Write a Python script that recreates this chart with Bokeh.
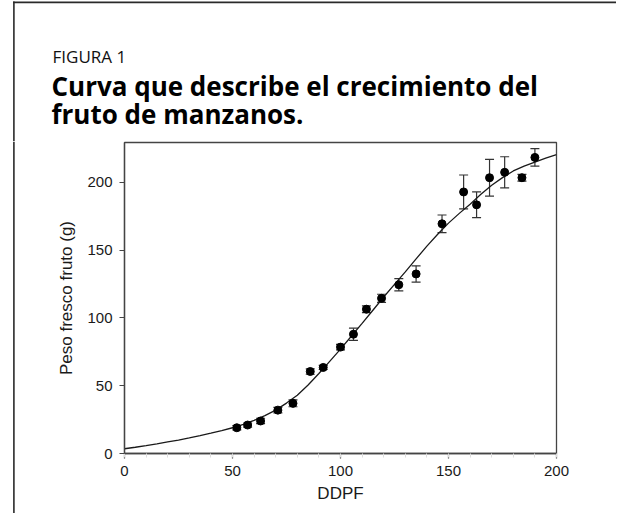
from bokeh.plotting import figure
from bokeh.layouts import column, row
from bokeh.models import (ColumnDataSource, Whisker, TeeHead, Range1d, FixedTicker)
from bokeh.core.properties import value
from bokeh.embed import file_html
from bokeh.resources import INLINE

# ---- data ----
ddpf = [52, 57, 63, 71, 78, 86, 92, 100, 106, 112, 119, 127, 135, 147, 157, 163, 169, 176, 184, 190]
peso = [19, 21, 24, 32, 37, 60.5, 63.5, 78.5, 88, 106.5, 114.5, 124.5, 132.5, 169.5,
        193, 183.5, 203.5, 207.5, 203.5, 218.5]
error = [1.5, 1.5, 2, 2, 2.5, 2, 1.5, 2, 4.5, 2.5, 3, 4.5, 6, 6.5, 12.5, 9.5, 13.5, 11.5, 2.5, 6.5]

# fitted growth curve, read every 5 DDPF
curve_x = [0, 5, 10, 15, 20, 25, 30, 35, 40, 45, 50, 55, 60, 65, 70, 75, 80, 85, 90, 95,
           100, 105, 110, 115, 120, 125, 130, 135, 140, 145, 150, 155, 160, 165, 170,
           175, 180, 185, 190, 195, 200]
curve_y = [3.5, 4.6, 5.8, 7.1, 8.5, 9.9, 11.5, 13.2, 15, 16.9, 19, 21.5, 24.5, 28, 32,
           37.2, 43, 50.5, 59, 68, 77, 86.5, 96, 105.7, 115.5, 124.8, 134, 143.6, 153,
           161.8, 170, 177.2, 184, 191.3, 198, 203.6, 208.5, 212, 215, 217.9, 220.5]

x_ticks = [0, 50, 100, 150, 200]
y_ticks = [0, 50, 100, 150, 200]

fig_label = "FIGURA 1"
title_lines = ["Curva que describe el crecimiento del", "fruto de manzanos."]
x_label = "DDPF"
y_label = "Peso fresco fruto (g)"

W = 616
HEAD_H = 141
MAIN_H = 372
STRIP_W = 15
FL, FR = 124, 556
BORDER = "#2a2a2a"


def blank_fig(width, height, xr, yr):
    f = figure(width=width, height=height, output_backend="svg", toolbar_location=None,
               x_range=Range1d(*xr), y_range=Range1d(*yr),
               x_axis_type=None, y_axis_type=None, title=None,
               min_border=0, min_border_left=0, min_border_right=0,
               min_border_top=0, min_border_bottom=0)
    f.frame_align = False
    f.grid.visible = False
    f.outline_line_color = None
    f.background_fill_color = "white"
    f.border_fill_color = "white"
    return f


# ---------------- header (pixel coordinates, y downwards) ----------------
head = blank_fig(W, HEAD_H, (0, W), (HEAD_H, 0))
head.quad(left=[12.6], right=[W], top=[1], bottom=[2.8], fill_color=BORDER, line_color=None)
head.quad(left=[12.6], right=[14.2], top=[1], bottom=[HEAD_H], fill_color=BORDER, line_color=None)
head.text(x=[52], y=[56], text=[fig_label], text_baseline="alphabetic",
          text_font=value("Open Sans"), text_font_size="17px", text_color="#111111")
head.text(x=[51, 51], y=[85, 113.5], text=title_lines, text_baseline="alphabetic",
          text_font=value("Open Sans"), text_font_style="bold", text_font_size="26px",
          text_color="#000000")

# ---------------- left strip carrying the outer box line ----------------
strip = blank_fig(STRIP_W, MAIN_H, (0, STRIP_W), (MAIN_H, 0))
strip.quad(left=[12.6], right=[14.2], top=[0], bottom=[MAIN_H], fill_color=BORDER, line_color=None)

# ---------------- main chart ----------------
p = figure(width=W - STRIP_W, height=MAIN_H, output_backend="svg", toolbar_location=None,
           x_range=Range1d(0, 200), y_range=Range1d(0, 229.5),
           min_border_left=FL - STRIP_W, min_border_right=W - FR, min_border_top=1,
           min_border_bottom=MAIN_H - 1 - 311, title=None)
p.frame_align = False
p.background_fill_color = "white"
p.border_fill_color = "white"
p.grid.visible = False
p.outline_line_color = "#444444"
p.outline_line_width = 1.3

for ax in (p.xaxis, p.yaxis):
    ax.axis_line_color = "#444444"
    ax.axis_line_width = 1.3
    ax.major_tick_line_color = "#444444"
    ax.major_tick_line_width = 1.2
    ax.major_tick_out = 5
    ax.major_tick_in = 0
    ax.major_label_text_font = "Liberation Sans"
    ax.major_label_text_font_size = "15px"
    ax.major_label_text_color = "#1a1a1a"
    ax.axis_label_text_font = "Liberation Sans"
    ax.axis_label_text_font_size = "17px"
    ax.axis_label_text_font_style = "normal"
    ax.axis_label_text_color = "#1a1a1a"
    ax.major_label_standoff = 7

p.xaxis.ticker = FixedTicker(ticks=x_ticks, minor_ticks=list(range(0, 201, 10)))
p.xaxis.minor_tick_line_color = "#dddddd"
p.xaxis.minor_tick_out = 4
p.xaxis.minor_tick_in = 0
p.yaxis.ticker = FixedTicker(ticks=y_ticks)
p.yaxis.minor_tick_line_color = None
p.xaxis.axis_label = x_label
p.yaxis.axis_label = y_label
p.xaxis.axis_label_standoff = 5
p.yaxis.axis_label_standoff = 8

# fitted curve
p.line(curve_x, curve_y, line_color="#1a1a1a", line_width=1.3)

# error bars
src = ColumnDataSource(dict(x=ddpf, y=peso,
                            upper=[v + e for v, e in zip(peso, error)],
                            lower=[v - e for v, e in zip(peso, error)]))
wh = Whisker(base="x", upper="upper", lower="lower", source=src,
             line_color="#333333", line_width=1.2,
             upper_head=TeeHead(size=9, line_color="#333333", line_width=1.2),
             lower_head=TeeHead(size=9, line_color="#333333", line_width=1.2))
p.add_layout(wh)

# points
p.scatter("x", "y", source=src, size=8, fill_color="black", line_color="black")

layout = column(head, row(strip, p, spacing=0), spacing=0)
open("out.html", "w").write(file_html(layout, INLINE))
